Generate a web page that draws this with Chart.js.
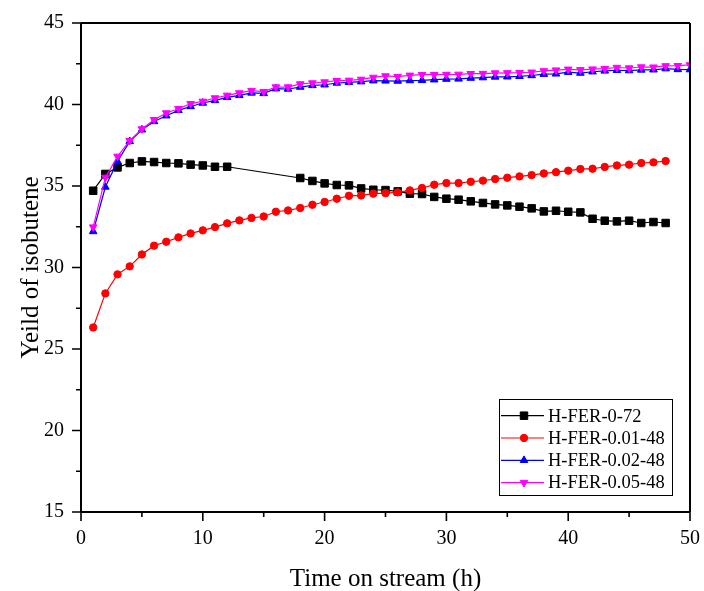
<!DOCTYPE html>
<html><head><meta charset="utf-8">
<script src="https://cdn.jsdelivr.net/npm/chart.js@4.4.0/dist/chart.umd.min.js"></script>
<style>html,body{margin:0;padding:0;background:#fff;}#wrap{width:704px;height:591px;}</style>
</head><body><div id="wrap"><canvas id="c" width="704" height="591"></canvas></div>
<script>
const seriesNames = ['H-FER-0-72', 'H-FER-0.01-48', 'H-FER-0.02-48', 'H-FER-0.05-48'];
const seriesColors = ['#000000', '#ff0000', '#0000ff', '#ff00ff'];

const hoursBlack = [1,2,3,4,5,6,7,8,9,10,11,12,18,19,20,21,22,23,24,25,26,27,28,29,30,31,32,33,34,35,36,37,38,39,40,41,42,43,44,45,46,47,48];
const hoursRed = [1,2,3,4,5,6,7,8,9,10,11,12,13,14,15,16,17,18,19,20,21,22,23,24,25,26,27,28,29,30,31,32,33,34,35,36,37,38,39,40,41,42,43,44,45,46,47,48];
const hoursBlueMagenta = [1,2,3,4,5,6,7,8,9,10,11,12,13,14,15,16,17,18,19,20,21,22,23,24,25,26,27,28,29,30,31,32,33,34,35,36,37,38,39,40,41,42,43,44,45,46,47,48,49,50];

const yieldBlack = [34.71,35.74,36.14,36.41,36.51,36.47,36.41,36.39,36.31,36.26,36.18,36.18,
  35.49,35.31,35.16,35.06,35.04,34.85,34.77,34.75,34.67,34.53,34.51,34.33,34.22,34.16,34.06,33.96,33.87,33.81,33.73,33.63,33.44,33.48,33.42,33.38,32.99,32.87,32.83,32.87,32.73,32.79,32.73];
const yieldRed = [26.32,28.41,29.58,30.07,30.80,31.34,31.58,31.85,32.09,32.28,32.48,32.71,32.89,33.04,33.13,33.42,33.50,33.65,33.85,34.02,34.22,34.40,34.42,34.53,34.56,34.61,34.73,34.88,35.08,35.18,35.18,35.26,35.33,35.43,35.51,35.59,35.67,35.77,35.85,35.94,36.04,36.06,36.17,36.26,36.31,36.41,36.45,36.53];
const yieldBlue = [32.21,34.94,36.51,37.74,38.45,38.96,39.31,39.64,39.88,40.09,40.25,40.44,40.56,40.71,40.68,40.97,40.95,41.07,41.17,41.21,41.32,41.36,41.40,41.46,
  41.45,41.44,41.47,41.48,41.52,41.56,41.57,41.62,41.65,41.69,41.70,41.73,41.78,41.86,41.88,41.98,41.93,42.01,42.06,42.10,42.08,42.12,42.13,42.20,42.15,42.14];
const yieldMagenta = [32.48,35.53,36.82,37.78,38.50,39.07,39.48,39.74,40.05,40.19,40.40,40.56,40.71,40.85,40.79,41.07,41.07,41.26,41.32,41.38,41.46,41.48,41.54,41.66,
  41.75,41.71,41.79,41.83,41.83,41.84,41.85,41.89,41.90,41.93,41.94,41.95,41.98,42.06,42.11,42.16,42.13,42.17,42.20,42.27,42.24,42.30,42.29,42.37,42.38,42.43];

const xTicks = [0,10,20,30,40,50];
const xMinorTicks = [5,15,25,35,45];
const yTicks = [15,20,25,30,35,40,45];
const yMinorTicks = [17.5,22.5,27.5,32.5,37.5,42.5];

const FONT = "'Liberation Serif','Times New Roman',serif";

function pts(xs, ys){ return xs.map((x,i)=>({x:x, y:ys[i]})); }

const markerStyles = [
  {pointStyle:'rect', radius:5.3, rotation:0},
  {pointStyle:'circle', radius:3.7, rotation:0},
  {pointStyle:'triangle', radius:4.4, rotation:0},
  {pointStyle:'triangle', radius:4.4, rotation:180}
];

function makeDs(i, xs, ys, order){
  const m = markerStyles[i];
  return {
    label: seriesNames[i],
    data: pts(xs, ys),
    borderColor: seriesColors[i],
    backgroundColor: seriesColors[i],
    borderWidth: 1.2,
    pointStyle: m.pointStyle,
    pointRadius: m.radius,
    pointRotation: m.rotation,
    pointBorderWidth: 1,
    pointBorderColor: seriesColors[i],
    pointBackgroundColor: seriesColors[i],
    tension: 0,
    clip: 0,
    order: order
  };
}

const frameTicks = {
  id: 'frameTicks',
  afterDraw(chart){
    const ctx = chart.ctx;
    const {left, right, top, bottom} = chart.chartArea;
    const xs = chart.scales.x, ys = chart.scales.y;
    ctx.save();
    ctx.strokeStyle = '#000';
    ctx.lineWidth = 2;
    ctx.beginPath();
    ctx.moveTo(left, bottom); ctx.lineTo(right, bottom);
    ctx.moveTo(left, bottom); ctx.lineTo(left, top);
    ctx.moveTo(left, top); ctx.lineTo(right, top);
    ctx.moveTo(right, top); ctx.lineTo(right, bottom);
    ctx.stroke();
    ctx.lineWidth = 1.6;
    ctx.beginPath();
    xTicks.forEach(v => { const p = xs.getPixelForValue(v); ctx.moveTo(p, bottom); ctx.lineTo(p, bottom + 9); });
    xMinorTicks.forEach(v => { const p = xs.getPixelForValue(v); ctx.moveTo(p, bottom); ctx.lineTo(p, bottom + 5); });
    yTicks.forEach(v => { const p = ys.getPixelForValue(v); ctx.moveTo(left, p); ctx.lineTo(left - 9, p); });
    yMinorTicks.forEach(v => { const p = ys.getPixelForValue(v); ctx.moveTo(left, p); ctx.lineTo(left - 5, p); });
    ctx.stroke();

    // legend box
    const bw = 173, bh = 96;
    const bx = right - 191, by = bottom - 113;
    ctx.fillStyle = '#fff';
    ctx.fillRect(bx, by, bw, bh);
    ctx.strokeStyle = '#000';
    ctx.lineWidth = 1;
    ctx.strokeRect(bx + 0.5, by + 0.5, bw, bh);
    ctx.font = "18.5px " + FONT;
    ctx.textBaseline = 'middle';
    ctx.textAlign = 'left';
    chart.data.datasets.forEach((ds, i) => {
      const ry = by + 16.7 + i * 22.3;
      ctx.strokeStyle = ds.borderColor;
      ctx.fillStyle = ds.backgroundColor;
      ctx.lineWidth = 1.2;
      ctx.beginPath();
      ctx.moveTo(bx + 2, ry); ctx.lineTo(bx + 45, ry);
      ctx.stroke();
      ctx.lineWidth = 1;
      Chart.helpers.drawPoint(ctx, {pointStyle: ds.pointStyle, rotation: ds.pointRotation, radius: ds.pointRadius, borderWidth: 1}, bx + 25, ry);
      ctx.fillStyle = '#000';
      ctx.fillText(ds.label, bx + 49, ry + 1);
    });
    ctx.restore();
  }
};

new Chart(document.getElementById('c'), {
  type: 'line',
  data: {
    datasets: [
      makeDs(0, hoursBlack, yieldBlack, 4),
      makeDs(1, hoursRed, yieldRed, 3),
      makeDs(2, hoursBlueMagenta, yieldBlue, 2),
      makeDs(3, hoursBlueMagenta, yieldMagenta, 1)
    ]
  },
  options: {
    responsive: false,
    animation: false,
    layout: {padding: {left: 0, right: 14, top: 23, bottom: 0}},
    plugins: {legend: {display: false}, tooltip: {enabled: false}},
    scales: {
      x: {
        type: 'linear', min: 0, max: 50,
        grid: {display: false, drawTicks: false},
        border: {display: false},
        afterBuildTicks: s => { s.ticks = xTicks.map(v => ({value: v})); },
        afterFit: s => { s.height = 79; s.paddingLeft = 0; s.paddingRight = 0; },
        ticks: {color: '#000', font: {family: FONT, size: 20}, padding: 15, maxRotation: 0, autoSkip: false},
        title: {display: true, text: 'Time on stream (h)', color: '#000', font: {family: FONT, size: 25}, padding: {top: 0, bottom: -3}}
      },
      y: {
        type: 'linear', min: 15, max: 45,
        grid: {display: false, drawTicks: false},
        border: {display: false},
        afterBuildTicks: s => { s.ticks = yTicks.map(v => ({value: v})); },
        afterFit: s => { s.width = 81; s.paddingTop = 0; s.paddingBottom = 0; },
        ticks: {color: '#000', font: {family: FONT, size: 20}, padding: 17, autoSkip: false},
        title: {display: true, text: 'Yeild of isobutene', color: '#000', font: {family: FONT, size: 25}, padding: {top: 16, bottom: 0}}
      }
    }
  },
  plugins: [frameTicks]
});
</script></body></html>
